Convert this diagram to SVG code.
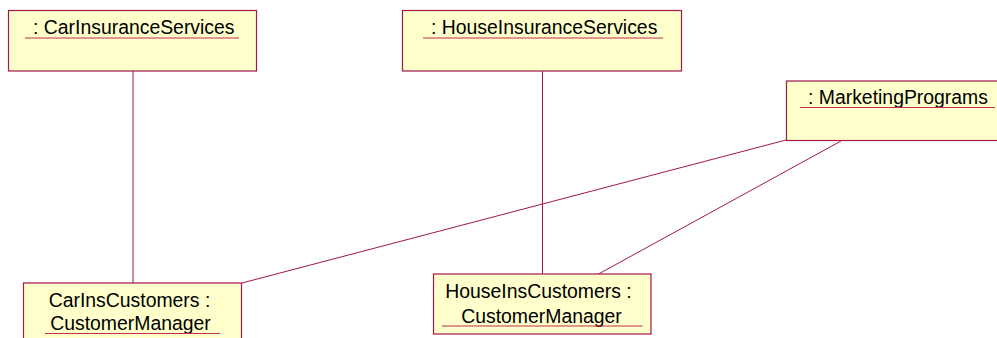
<svg xmlns="http://www.w3.org/2000/svg" width="997" height="338" viewBox="0 0 997 338">
  <style>
    .box { fill: #FFFFCC; stroke: #A3174B; stroke-width: 1.2; }
    .label { font-family: "Liberation Sans", Arial, sans-serif; font-size: 19.4px; fill: #000; }
    .mid { text-anchor: middle; }
    .uline { stroke: #C0304F; stroke-width: 1.2; }
    .link { stroke: #A3174B; stroke-width: 1; fill: none; }
  </style>
  <rect width="997" height="338" fill="#FFFFFF"/>

  <!-- associations between objects -->
  <g id="connectors">
    <line class="link" x1="133" y1="71" x2="133" y2="283"/>
    <line class="link" x1="542.5" y1="71" x2="542.5" y2="274"/>
    <line class="link" x1="786" y1="140" x2="242" y2="283"/>
    <line class="link" x1="841" y1="141" x2="598.5" y2="274"/>
  </g>

  <g id="carInsuranceServices">
    <rect class="box" x="8.5" y="10.5" width="248" height="60.5"/>
    <text class="label" x="33" y="33.5">: CarInsuranceServices</text>
    <line class="uline" x1="25" y1="38" x2="239" y2="38"/>
  </g>

  <g id="houseInsuranceServices">
    <rect class="box" x="402.5" y="10.5" width="279" height="60.5"/>
    <text class="label" x="431" y="33.5">: HouseInsuranceServices</text>
    <line class="uline" x1="423" y1="38" x2="663" y2="38"/>
  </g>

  <g id="marketingPrograms">
    <rect class="box" x="786.5" y="81" width="215" height="59.5"/>
    <text class="label" x="808" y="103.5">: MarketingPrograms</text>
    <line class="uline" x1="800" y1="107.5" x2="995" y2="107.5"/>
  </g>

  <g id="carInsCustomers">
    <rect class="box" x="23.5" y="283" width="218" height="70"/>
    <text class="label mid" x="129.5" y="306.5">CarInsCustomers :</text>
    <text class="label mid" x="130.5" y="329.5">CustomerManager</text>
    <line class="uline" x1="45" y1="333.5" x2="220" y2="333.5"/>
  </g>

  <g id="houseInsCustomers">
    <rect class="box" x="433.5" y="274" width="217.5" height="60"/>
    <text class="label mid" x="538.5" y="298">HouseInsCustomers :</text>
    <text class="label mid" x="541.5" y="323">CustomerManager</text>
    <line class="uline" x1="442" y1="326" x2="642.5" y2="326"/>
  </g>
</svg>
